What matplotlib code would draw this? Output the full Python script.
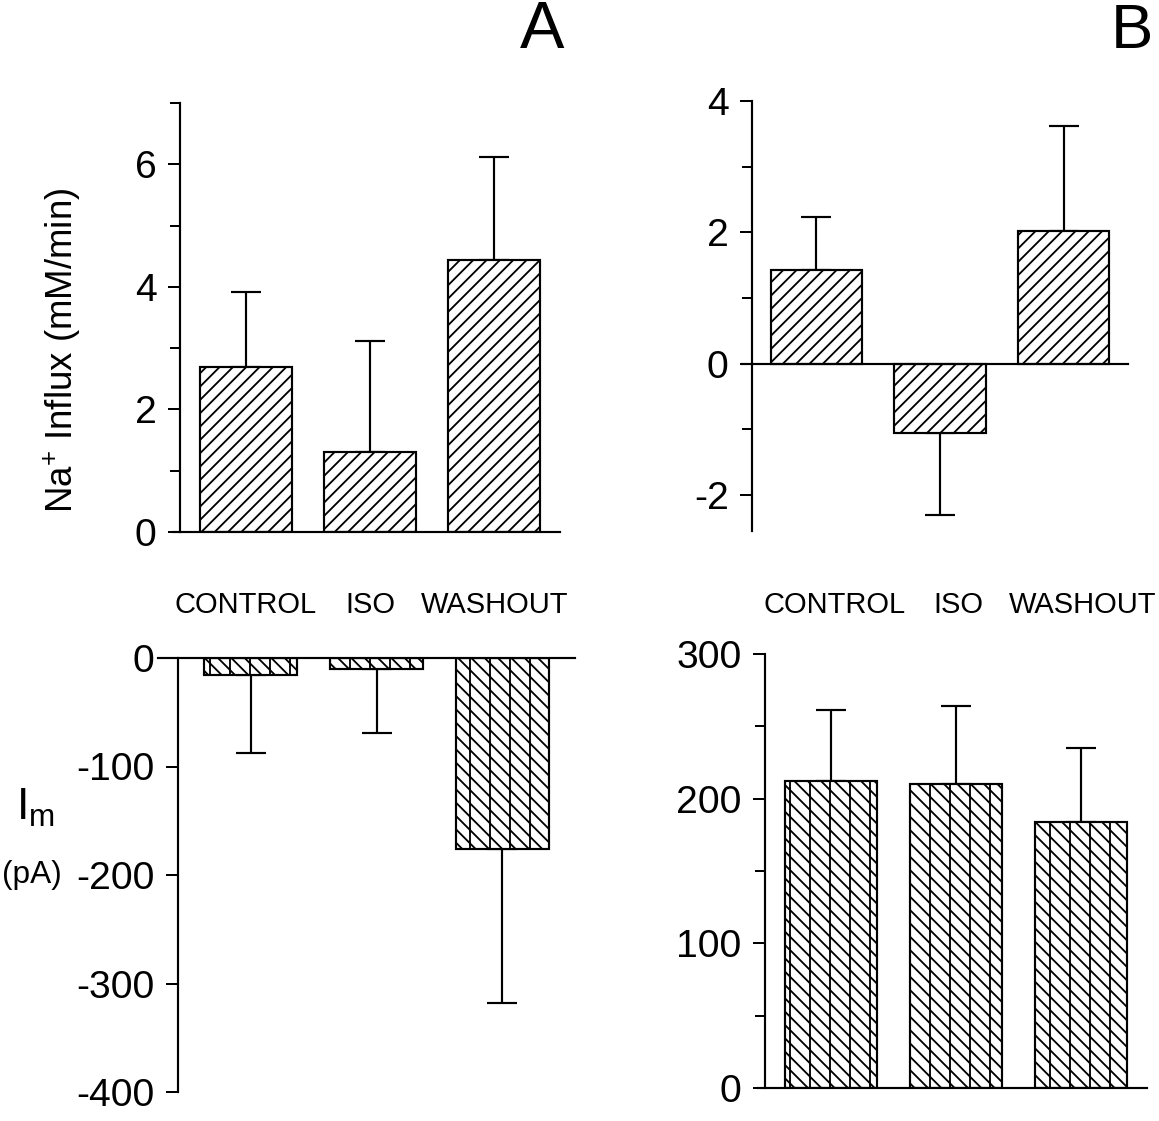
import matplotlib
matplotlib.use('Agg')
import matplotlib.pyplot as plt
import matplotlib.transforms as mtransforms
from matplotlib.ticker import MultipleLocator
import numpy as np

conditions = ['CONTROL', 'ISO', 'WASHOUT']

# Na+ influx (mM/min), mean and SE
na_influx_a = [2.69, 1.30, 4.44]
na_influx_a_err = [1.23, 1.82, 1.68]
na_influx_b = [1.42, -1.06, 2.02]
na_influx_b_err = [0.81, 1.24, 1.60]

# membrane current Im (pA)
im_a = [-16, -10, -176]
im_a_err = [72, 59, 142]
im_b = [212, 210, 184]
im_b_err = [49, 54, 51]

W, H = 1159, 1121
DPI = 120

# hatch patterns (built with chr to avoid escaping trouble)
hatch_top = '///'
hatch_bottom = chr(92) * 3 + '|'

plt.rcParams.update({
    'font.family': ['Liberation Sans', 'DejaVu Sans'],
    'mathtext.fontset': 'custom',
    'mathtext.rm': 'Liberation Sans',
    'mathtext.it': 'Liberation Sans:italic',
    'axes.unicode_minus': False,
    'hatch.linewidth': 1.1,
    'axes.linewidth': 1.3,
})

fig = plt.figure(figsize=(W / DPI, H / DPI), dpi=DPI)


def box(l, t, r, b):
    # pixel box -> figure fraction
    return [l / W, 1 - b / H, (r - l) / W, (b - t) / H]


def panel(rect, vals, errs, hatch, ylim, xlim, major, minor, zero_xmin):
    ax = fig.add_axes(rect)
    x = np.arange(len(vals))
    vals = np.array(vals, dtype=float)
    errs = np.array(errs, dtype=float)
    lower = np.where(vals < 0, errs, 0)
    upper = np.where(vals >= 0, errs, 0)
    ax.errorbar(x, vals, yerr=[lower, upper], fmt='none', ecolor='black',
                elinewidth=1.3, capsize=9, capthick=1.3, zorder=1)
    ax.bar(x, vals, width=0.74, color='white', edgecolor='black',
           linewidth=1.3, hatch=hatch, zorder=2)
    ax.axhline(0, xmin=zero_xmin, xmax=1, color='black', lw=1.3,
               clip_on=False, zorder=3)
    ax.set_ylim(*ylim)
    ax.set_xlim(*xlim)
    for s in ['top', 'right', 'bottom']:
        ax.spines[s].set_visible(False)
    ax.set_xticks([])
    ax.yaxis.set_major_locator(MultipleLocator(major))
    ax.yaxis.set_minor_locator(MultipleLocator(minor))
    ax.tick_params(axis='y', which='major', length=7, width=1.2,
                   labelsize=23.5, pad=7)
    ax.tick_params(axis='y', which='minor', length=6, width=1.2)
    ax.patch.set_alpha(0)
    return ax


def cat_labels(ax, offset):
    tr = mtransforms.blended_transform_factory(ax.transData, fig.transFigure)
    for i, c in enumerate(conditions):
        ax.text(i + offset, 1 - 605 / H, c, transform=tr, ha='center',
                va='center', fontsize=17.5)


ax1 = panel(box(180, 103, 560, 532), na_influx_a, na_influx_a_err, hatch_top,
            (0, 7), (-0.53, 2.53), 2, 1, -0.018)
ax1.set_yticks([0, 2, 4, 6])
cat_labels(ax1, 0.0)

ax2 = panel(box(752, 101, 1128, 531), na_influx_b, na_influx_b_err, hatch_top,
            (-2.55, 4), (-0.52, 2.52), 2, 1, -0.027)
ax2.set_yticks([-2, 0, 2, 4])
cat_labels(ax2, 0.15)

ax3 = panel(box(178, 658, 575, 1092), im_a, im_a_err, hatch_bottom,
            (-400, 0), (-0.58, 2.58), 100, 100, -0.05)

ax4 = panel(box(765, 654, 1147, 1088), im_b, im_b_err, hatch_bottom,
            (0, 300), (-0.53, 2.53), 100, 50, -0.018)

fig.text(62 / W, 1 - 350 / H, 'Na$^{+}$ Influx (mM/min)', rotation=90,
         ha='center', va='center', fontsize=22)
fig.text(16 / W, 1 - 808 / H, r'I$_{\mathrm{m}}$', ha='left', va='center',
         fontsize=27)
fig.text(32 / W, 1 - 875 / H, '(pA)', ha='center', va='center', fontsize=19)

fig.text(542 / W, 1 - 31 / H, 'A', ha='center', va='center', fontsize=40)
fig.text(1132 / W, 1 - 31 / H, 'B', ha='center', va='center', fontsize=38)

fig.savefig('out.png', dpi=DPI)
